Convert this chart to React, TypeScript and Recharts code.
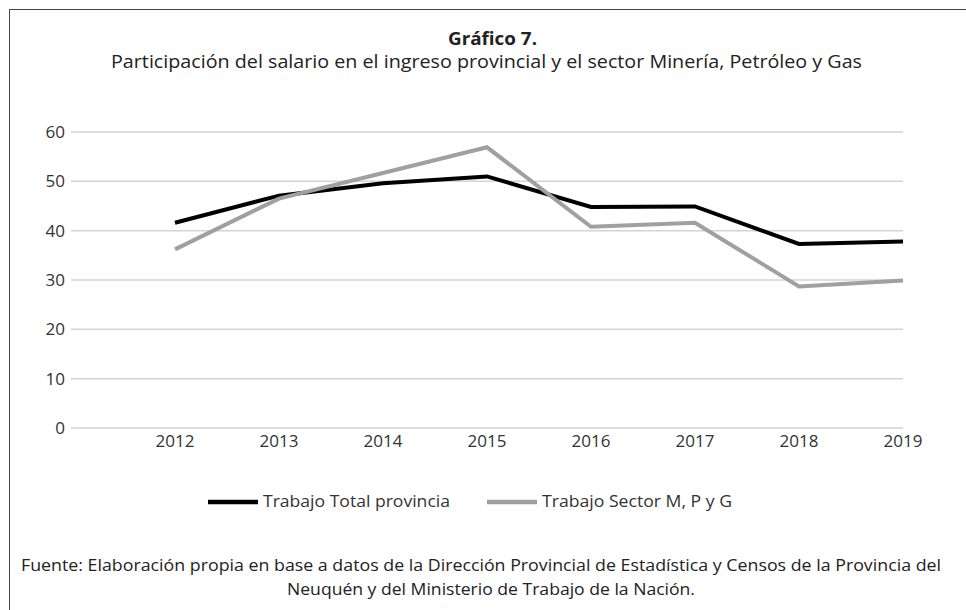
import React from 'react';
import { LineChart, Line, XAxis, YAxis, CartesianGrid, Legend } from 'recharts';

const years = [2012, 2013, 2014, 2015, 2016, 2017, 2018, 2019];
const totalProvincia = [41.6, 47.1, 49.6, 51.0, 44.8, 44.9, 37.3, 37.8];
const sectorMPG = [36.2, 46.5, 51.7, 56.9, 40.8, 41.6, 28.7, 29.9];
const yTicks = [0, 10, 20, 30, 40, 50, 60];
const seriesNames = ['Trabajo Total provincia', 'Trabajo Sector M, P y G'];

const title = 'Gráfico 7.';
const subtitle = 'Participación del salario en el ingreso provincial y el sector Minería, Petróleo y Gas';
const source = [
  'Fuente: Elaboración propia en base a datos de la Dirección Provincial de Estadística y Censos de la Provincia del',
  'Neuquén y del Ministerio de Trabajo de la Nación.',
];

const data = years.map((year, i) => ({
  year,
  total: totalProvincia[i],
  sector: sectorMPG[i],
}));

const FONT = '"Open Sans", "DejaVu Sans", sans-serif';
const textWidths = [187, 190];

// legend drawn by hand so the line samples look like the Excel ones
const LegendContent = (props: any) => {
  const payload = [...(props.payload || [])].sort(
    (a: any, b: any) => seriesNames.indexOf(a.value) - seriesNames.indexOf(b.value)
  );
  return (
    <svg width={540} height={24} style={{ display: 'block' }}>
      {payload.map((entry: any, i: number) => (
        <g key={entry.value} transform={`translate(${i * 279}, 0)`}>
          <line x1={0} y1={12} x2={50} y2={12} stroke={entry.color} strokeWidth={4.5} />
          <text
            x={55}
            y={17}
            fontFamily={FONT}
            fontSize={16}
            fill="#333"
            textLength={textWidths[i]}
            lengthAdjust="spacingAndGlyphs"
          >
            {entry.value}
          </text>
        </g>
      ))}
    </svg>
  );
};

export default function App() {
  return (
    <div style={{ position: 'absolute', left: 0, top: 0, width: 966, height: 610, overflow: 'hidden', background: '#fff' }}>
      <div
        style={{
          position: 'absolute',
          left: 9,
          top: 9,
          width: 990,
          height: 700,
          border: '1px solid #444',
          boxSizing: 'border-box',
        }}
      />
      <svg width={966} height={610} style={{ position: 'absolute', left: 0, top: 0 }}>
        <text x={448} y={45} fontFamily={FONT} fontWeight="bold" fontSize={17} fill="#222" textLength={89} lengthAdjust="spacingAndGlyphs">
          {title}
        </text>
        <text x={111} y={68} fontFamily={FONT} fontSize={18} fill="#222" textLength={751} lengthAdjust="spacingAndGlyphs">
          {subtitle}
        </text>
        <text x={21} y={571} fontFamily={FONT} fontSize={17} fill="#222" textLength={920} lengthAdjust="spacingAndGlyphs">
          {source[0]}
        </text>
        <text x={287} y={595} fontFamily={FONT} fontSize={17} fill="#222" textLength={408} lengthAdjust="spacingAndGlyphs">
          {source[1]}
        </text>
      </svg>
      <div style={{ position: 'absolute', left: 0, top: 0 }}>
        <LineChart width={966} height={610} data={data} margin={{ top: 132, right: 63, bottom: 118, left: 0 }}>
          <CartesianGrid vertical={false} stroke="#d4d4d4" strokeWidth={1.5} />
          <XAxis
            dataKey="year"
            type="number"
            domain={[2011, 2019]}
            ticks={years}
            axisLine={false}
            tickLine={false}
            tickSize={0}
            tickMargin={7}
            tick={{ fill: '#333', fontSize: 17, fontFamily: FONT }}
            height={40}
          />
          <YAxis
            domain={[0, 60]}
            ticks={yTicks}
            axisLine={false}
            tickLine={false}
            tickSize={0}
            tickMargin={6}
            width={71}
            tick={{ fill: '#333', fontSize: 17, fontFamily: FONT }}
          />
          <Legend
            verticalAlign="bottom"
            content={<LegendContent />}
            wrapperStyle={{ left: 208, top: 490, width: 540, bottom: 'auto' }}
          />
          <Line
            type="linear"
            dataKey="total"
            name={seriesNames[0]}
            stroke="#000000"
            strokeWidth={4}
            dot={false}
            isAnimationActive={false}
          />
          <Line
            type="linear"
            dataKey="sector"
            name={seriesNames[1]}
            stroke="#a0a0a0"
            strokeWidth={4}
            dot={false}
            isAnimationActive={false}
          />
        </LineChart>
      </div>
    </div>
  );
}
